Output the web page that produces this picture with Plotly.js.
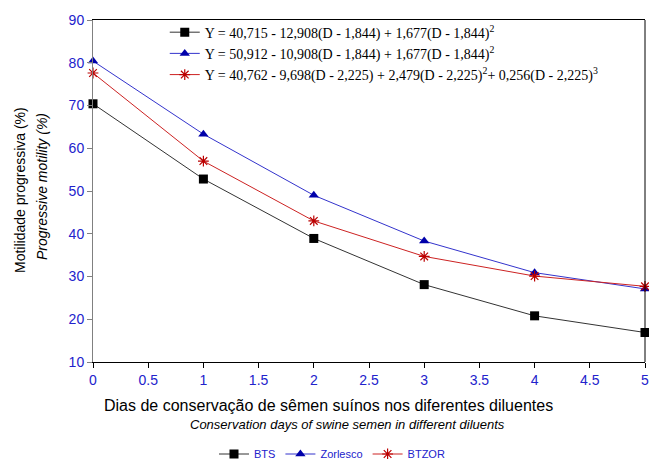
<!DOCTYPE html>
<html><head><meta charset="utf-8">
<script src="https://cdn.plot.ly/plotly-3.0.1.min.js"></script>
<style>html,body{margin:0;padding:0;background:#fff}</style>
</head><body><div id="chart" style="width:649px;height:459px"></div>
<script>
const days = [0, 1, 2, 3, 4, 5];
const bts = [70.4, 52.8, 38.9, 28.1, 20.8, 16.9];
const zorlesco = [80.4, 63.3, 49.0, 38.3, 30.9, 27.1];
const btzor = [77.6, 57.0, 43.0, 34.7, 30.1, 27.7];
const seriesNames = ["BTS", "Zorlesco", "BTZOR"];
const equations = [
  "Y = 40,715 - 12,908(D - 1,844) + 1,677(D - 1,844)<sup>2</sup>",
  "Y = 50,912 - 10,908(D - 1,844) + 1,677(D - 1,844)<sup>2</sup>",
  "Y = 40,762 - 9,698(D - 2,225) + 2,479(D - 2,225)<sup>2</sup>+ 0,256(D - 2,225)<sup>3</sup>"
];
const xTicks = [0, 0.5, 1, 1.5, 2, 2.5, 3, 3.5, 4, 4.5, 5];
const yTicks = [10, 20, 30, 40, 50, 60, 70, 80, 90];

const styles = [
  {line:{color:'#333333',width:1}, marker:{symbol:'square',color:'#000000',size:9}},
  {line:{color:'#3333cc',width:1}, marker:{symbol:'triangle-up',color:'#0000aa',size:9}},
  {line:{color:'#cc2222',width:1}, marker:{symbol:'asterisk-open',color:'#bb0000',size:9,line:{color:'#bb0000',width:1.2}}}
];
const vals = [bts, zorlesco, btzor];
const traces = [];
vals.forEach((v,i)=>{
  traces.push({x:days, y:v, name:seriesNames[i], type:'scatter', mode:'lines+markers',
    line:styles[i].line, marker:styles[i].marker, cliponaxis:false, legend:'legend'});
});
equations.forEach((e,i)=>{
  traces.push({x:[null], y:[null], name:e, type:'scatter', mode:'lines+markers',
    line:styles[i].line, marker:styles[i].marker, legend:'legend2'});
});

const layout = {
  width:649, height:459,
  margin:{l:93, r:4, t:20, b:97, autoexpand:false},
  paper_bgcolor:'#fff', plot_bgcolor:'#fff',
  font:{family:'Arial, Liberation Sans, sans-serif'},
  xaxis:{range:[0,5], tickvals:xTicks, ticktext:xTicks.map(String), showgrid:false, zeroline:false,
    showline:true, linecolor:'#000', linewidth:1, mirror:true, ticks:'outside', ticklen:5, tickcolor:'#000',
    tickfont:{color:'#2222cc', size:14}, automargin:false, ticklabeloverflow:'allow'},
  yaxis:{range:[10,90], tickvals:yTicks, showgrid:false, zeroline:false,
    showline:true, linecolor:'#808080', linewidth:1, ticks:'outside', ticklen:5, tickcolor:'#808080',
    tickfont:{color:'#2222cc', size:14}, automargin:false},
  showlegend:true,
  legend:{orientation:'h', x:(332-93)/552, xanchor:'center', y:-(454-362)/342, yanchor:'middle', font:{size:11, color:'#2222cc'},
    bgcolor:'rgba(0,0,0,0)', itemwidth:30, tracegroupgap:0},
  legend2:{x:0.13, xanchor:'left', y:1.01, yanchor:'top', font:{family:'Times New Roman, Liberation Serif, serif', size:14, color:'#000'},
    bgcolor:'rgba(0,0,0,0)', itemwidth:30, tracegroupgap:0},
  shapes:[{type:'line', xref:'paper', yref:'paper', x0:1, x1:1, y0:0, y1:1, line:{color:'#000', width:1}}],
  annotations:[
    {text:'Dias de conservação de sêmen suínos nos diferentes diluentes', xref:'paper', yref:'paper',
     x:(328-93)/552, y:-(405-362)/342, xanchor:'center', yanchor:'middle', showarrow:false, font:{size:16, color:'#000'}},
    {text:'<i>Conservation days of swine semen in different diluents</i>', xref:'paper', yref:'paper',
     x:(347-93)/552, y:-(425-362)/342, xanchor:'center', yanchor:'middle', showarrow:false, font:{size:13, color:'#000'}},
    {text:'Motilidade progressiva (%)', xref:'paper', yref:'paper', textangle:-90,
     x:-(93-20)/552, y:(362-190)/342, xanchor:'center', yanchor:'middle', showarrow:false, font:{size:14, color:'#000'}},
    {text:'<i>Progressive motility (%)</i>', xref:'paper', yref:'paper', textangle:-90,
     x:-(93-42)/552, y:(362-187)/342, xanchor:'center', yanchor:'middle', showarrow:false, font:{size:14, color:'#000'}}
  ]
};
Plotly.newPlot('chart', traces, layout, {displayModeBar:false, staticPlot:true});
</script></body></html>
